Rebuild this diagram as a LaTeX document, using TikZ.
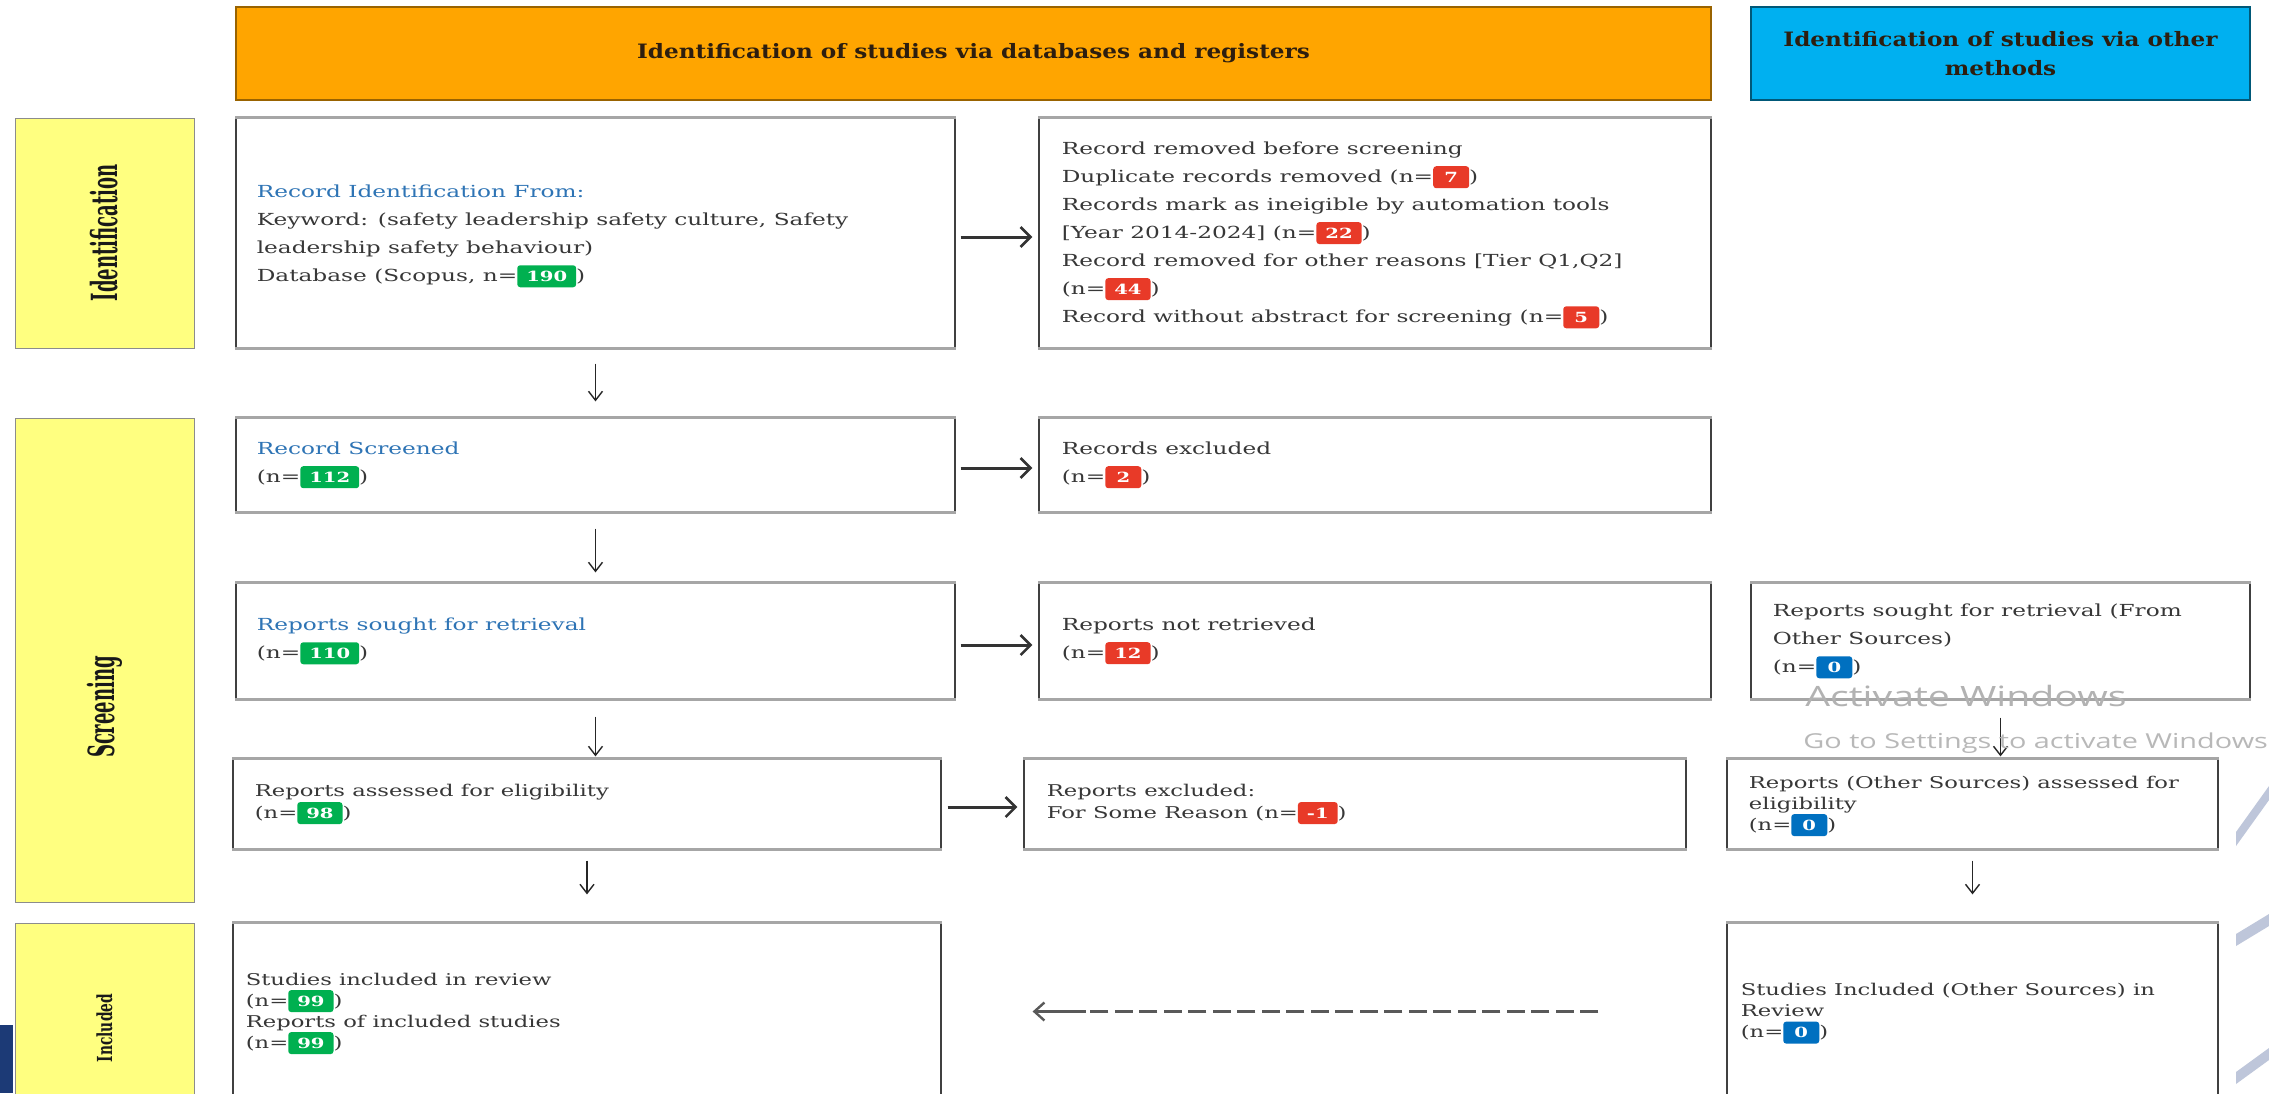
\documentclass[tikz,border=0pt]{standalone}
\usepackage{fontspec}
\setmainfont{DejaVu Serif}[FakeStretch=1.4]
\newfontfamily\sidefont{DejaVu Serif}
\newfontfamily\hdrfont{DejaVu Serif}[FakeStretch=1.17]
\newfontfamily\winfont{Open Sans}[FakeStretch=1.4]
\usetikzlibrary{arrows.meta}
\definecolor{hdrorange}{RGB}{255,165,0}
\definecolor{hdrblue}{RGB}{0,176,240}
\definecolor{sideyellow}{RGB}{255,255,128}
\definecolor{ttlblue}{RGB}{46,116,181}
\definecolor{bgreen}{RGB}{0,176,80}
\definecolor{bred}{RGB}{232,58,40}
\definecolor{bblue}{RGB}{0,112,192}
\definecolor{deco}{RGB}{190,198,218}
\definecolor{stripblue}{RGB}{28,58,118}
\definecolor{bodytext}{RGB}{55,55,55}
\definecolor{hdrtext}{RGB}{45,30,15}
\tikzset{
  box/.style={draw=black!75, line width=0.6pt, fill=white, inner sep=0pt},
  boxedge/.style={draw=black!35, line width=1.6pt},
  ylw/.style={draw=black!45, line width=0.5pt, fill=sideyellow, inner sep=0pt},
  sidelbl/.style={inner sep=0pt, text=black!90},
  txt/.style={align=left, inner sep=0pt, text=bodytext, font=\fontsize{8.3}{14}\selectfont},
  txtsm/.style={align=left, inner sep=0pt, text=bodytext, font=\fontsize{8.1}{11}\selectfont},
  txtxs/.style={align=left, inner sep=0pt, text=bodytext, font=\fontsize{8.1}{10.5}\selectfont},
  badge/.style={rounded corners=1.5pt, inner xsep=4.5pt, inner ysep=0pt, minimum height=11pt, minimum width=18pt, text=white, font=\fontsize{7}{7}\selectfont\bfseries},
  harr/.style={draw=black!80, line width=1.5pt, -{Straight Barb[length=5pt, width=10pt, line width=1.3pt]}},
  varr/.style={draw=black!85, line width=0.7pt, -{Straight Barb[length=4.5pt, width=7pt, line width=0.7pt]}},
  dline/.style={draw=black!65, line width=1.6pt, dash pattern=on 9pt off 3.25pt},
  darr/.style={draw=black!65, line width=1.3pt, -{Straight Barb[length=5pt, width=9pt, line width=1.2pt]}},
  hdr/.style={inner sep=0pt, minimum height=46.5pt, text=hdrtext, align=center, font=\hdrfont\bfseries\fontsize{9.9}{14.5}\selectfont},
  wmA/.style={inner sep=0pt, text=black!30, font=\winfont\fontsize{14}{14}\selectfont},
  wmB/.style={inner sep=0pt, text=black!28, font=\winfont\fontsize{10.3}{10.3}\selectfont},
}
\newcommand\gbadge[1]{\tikz[baseline]\node[badge,fill=bgreen,anchor=base]{#1};}
\newcommand\rbadge[1]{\tikz[baseline]\node[badge,fill=bred,anchor=base]{#1};}
\newcommand\bbadge[1]{\tikz[baseline]\node[badge,fill=bblue,anchor=base]{#1};}
\begin{document}
\begin{tikzpicture}[x=0.5pt,y=-0.5pt]
\useasboundingbox (0,0) rectangle (2269,1093);
\fill[white] (0,0) rectangle (2269,1093);

% headers
\node[hdr, draw=hdrorange!60!black, line width=0.8pt, fill=hdrorange, minimum width=737.5pt] (hA) at (973.5,53.5) {Identification of studies via databases and registers};
\node[hdr, draw=hdrblue!50!black, line width=0.6pt, fill=hdrblue, minimum width=249.5pt] (hB) at (2000.5,53.5) {Identification of studies via other\\methods};

% side bars
\node[ylw, minimum width=89.5pt, minimum height=115pt] (sI) at (104.5,233) {};
\node[ylw, minimum width=89.5pt, minimum height=242pt] (sS) at (104.5,660) {};
\node[ylw, minimum width=89.5pt, minimum height=90pt] (sN) at (104.5,1013) {};
\node[sidelbl, font=\sidefont\bfseries\fontsize{9}{9}\selectfont] (lI) at (104.5,233) {\rotatebox{90}{\scalebox{1}[2]{Identification}}};
\node[sidelbl, font=\sidefont\bfseries\fontsize{9}{9}\selectfont] (lS) at (104.5,707) {\rotatebox{90}{\scalebox{1}[2]{Screening}}};
\node[sidelbl, font=\sidefont\bfseries\fontsize{6.9}{6.9}\selectfont] (lN) at (104.5,1028) {\rotatebox{90}{\scalebox{1}[1.5]{Included}}};

% boxes
\node[box, minimum width=359.5pt, minimum height=115pt] (b1) at (595.5,233) {};
\node[box, minimum width=336pt, minimum height=115pt] (b2) at (1375,233) {};
\node[box, minimum width=359.5pt, minimum height=47pt] (b3) at (595.5,465) {};
\node[box, minimum width=336pt, minimum height=47pt] (b4) at (1375,465) {};
\node[box, minimum width=359.5pt, minimum height=58pt] (b5) at (595.5,641) {};
\node[box, minimum width=336pt, minimum height=58pt] (b6) at (1375,641) {};
\node[box, minimum width=249.5pt, minimum height=58pt] (b7) at (2000.5,641) {};
\node[box, minimum width=354pt, minimum height=45pt] (b8) at (587,804) {};
\node[box, minimum width=331pt, minimum height=45pt] (b9) at (1355,804) {};
\node[box, minimum width=245.5pt, minimum height=45pt] (b10) at (1972.5,804) {};
\node[box, minimum width=354pt, minimum height=88.5pt] (b11) at (587,1011.5) {};
\node[box, minimum width=245.5pt, minimum height=88.5pt] (b12) at (1972.5,1011.5) {};
\foreach \n in {b1,b2,b3,b4,b5,b6,b7,b8,b9,b10,b11,b12}
  \draw[boxedge] (\n.north west) -- (\n.north east) (\n.south west) -- (\n.south east);

% texts
\node[txt, anchor=west] (t1) at ([xshift=10.5pt,yshift=-1.5pt]b1.west) {{\color{ttlblue}Record Identification From:}\\
Keyword: (safety leadership safety culture, Safety\\
leadership safety behaviour)\\
Database (Scopus, n=\gbadge{190})};
\node[txt, anchor=west] (t2) at ([xshift=11.5pt,yshift=-1pt]b2.west) {Record removed before screening\\
Duplicate records removed (n=\rbadge{7})\\
Records mark as ineigible by automation tools\\
{[}Year 2014-2024{]} (n=\rbadge{22})\\
Record removed for other reasons {[}Tier Q1,Q2{]}\\
(n=\rbadge{44})\\
Record without abstract for screening (n=\rbadge{5})};
\node[txt, anchor=west] (t3) at ([xshift=10.5pt]b3.west) {{\color{ttlblue}Record Screened}\\(n=\gbadge{112})};
\node[txt, anchor=west] (t4) at ([xshift=11.5pt]b4.west) {Records excluded\\(n=\rbadge{2})};
\node[txt, anchor=west] (t5) at ([xshift=10.5pt]b5.west) {{\color{ttlblue}Reports sought for retrieval}\\(n=\gbadge{110})};
\node[txt, anchor=west] (t6) at ([xshift=11.5pt]b6.west) {Reports not retrieved\\(n=\rbadge{12})};
\node[txt, anchor=west] (t7) at ([xshift=11pt]b7.west) {Reports sought for retrieval (From\\Other Sources)\\(n=\bbadge{0})};
\node[txtsm, anchor=west] (t8) at ([xshift=11pt]b8.west) {Reports assessed for eligibility\\(n=\gbadge{98})};
\node[txtsm, anchor=west] (t9) at ([xshift=11.5pt]b9.west) {Reports excluded:\\For Some Reason (n=\rbadge{-1})};
\node[txtxs, anchor=west] (t10) at ([xshift=11pt,yshift=-1pt]b10.west) {Reports (Other Sources) assessed for\\eligibility\\(n=\bbadge{0})};
\node[txtxs, anchor=west] (t11) at ([xshift=6.5pt,yshift=-1pt]b11.west) {Studies included in review\\(n=\gbadge{99})\\Reports of included studies\\(n=\gbadge{99})};
\node[txtxs, anchor=west] (t12) at ([xshift=7pt,yshift=-1pt]b12.west) {Studies Included (Other Sources) in\\Review\\(n=\bbadge{0})};

% horizontal arrows
\draw[harr] ([xshift=2.5pt,yshift=-2pt]b1.east) -- ([xshift=-3pt,yshift=-2pt]b2.west);
\draw[harr] ([xshift=2.5pt,yshift=-1.5pt]b3.east) -- ([xshift=-3pt,yshift=-1.5pt]b4.west);
\draw[harr] ([xshift=2.5pt,yshift=-2pt]b5.east) -- ([xshift=-3pt,yshift=-2pt]b6.west);
\draw[harr] ([xshift=3pt,yshift=-1.5pt]b8.east) -- ([xshift=-3pt,yshift=-1.5pt]b9.west);

% vertical arrows
\draw[varr] ([yshift=-7.5pt]b1.south) -- ([yshift=8pt]b3.north);
\draw[varr] ([yshift=-8pt]b3.south) -- ([yshift=5pt]b5.north);
\draw[varr] ([yshift=-8.5pt]b5.south) -- ([yshift=1pt]b5.south |- b8.north);
\draw[varr] ([yshift=-5.5pt]b8.south) -- ([yshift=14pt]b11.north);
\draw[varr] ([yshift=-9pt]b7.south) -- ([yshift=1pt]b7.south |- b10.north);
\draw[varr] ([yshift=-5.5pt]b10.south) -- ([yshift=14pt]b12.north);

% dashed arrow (dashes, then a solid end with the head)
\coordinate (dmid) at ([xshift=72pt]b11.east);
\draw[dline] ([xshift=-64pt]b12.west) -- (dmid);
\draw[darr] (dmid) -- ([xshift=45.5pt]b11.east);

% screenshot artefacts
\node[wmA, anchor=base west] (wa) at (1805,706) {Activate Windows};
\node[wmB, anchor=base west] (wb) at (1803,748) {Go to Settings to activate Windows};
\fill[deco] (2236,846) -- (2269,800) -- (2269,786) -- (2236,832) -- cycle;
\fill[deco] (2236,946) -- (2269,926) -- (2269,914) -- (2236,934) -- cycle;
\fill[deco] (2236,1084) -- (2269,1060) -- (2269,1048) -- (2236,1072) -- cycle;
\fill[stripblue] (0,1025) rectangle (13,1093);
\end{tikzpicture}
\end{document}
